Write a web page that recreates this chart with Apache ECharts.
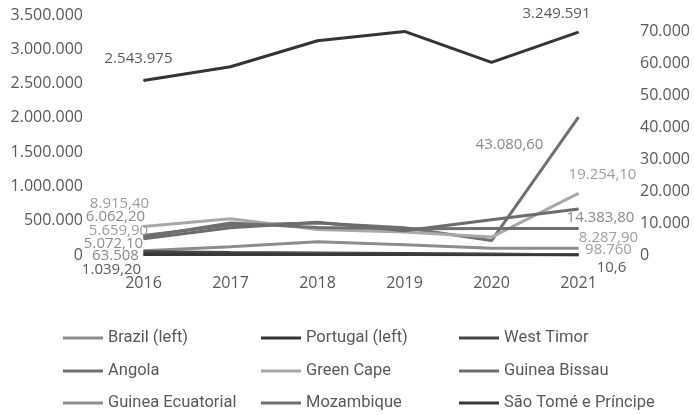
<!DOCTYPE html>
<html>
<head>
<meta charset="utf-8">
<script src="https://cdn.jsdelivr.net/npm/echarts@6/dist/echarts.min.js"></script>
<style>
  html, body { margin: 0; padding: 0; background: #fff; }
  #chart { width: 694px; height: 415px; }
</style>
</head>
<body>
<div id="chart"></div>
<script>
// Years on the category axis
const years = ['2016', '2017', '2018', '2019', '2020', '2021'];

// Left axis series (large values)
const brazil   = [63508, 121000, 195000, 150000, 100000, 98760];
const portugal = [2543975, 2745000, 3125000, 3260000, 2810000, 3249591];

// Right axis series
const westTimor        = [1039.2, 800, 650, 500, 300, 10.6];
const angola           = [6062.2, 9400, 10000, 8500, 4500, 43080.6];
const greenCape        = [8915.4, 11300, 8000, 7200, 5600, 19254.1];
const guineaBissau     = [5072.1, 8500, 10200, 7600, 11000, 14383.8];
const guineaEcuatorial = [150, 180, 200, 170, 160, 190];
const mozambique       = [5659.9, 10000, 8600, 8200, 8300, 8287.9];
const saoTome          = [120, 130, 140, 120, 110, 100];

// Axis ranges and tick steps
const leftTicks  = { max: 3500000, step: 500000 };
const rightTicks = { max: 75000, step: 10000 };

const AXIS_FONT = 'Open Sans';
const LEGEND_FONT = "'Liberation Sans Narrow', 'Arial Narrow', 'Roboto', sans-serif";

// Portuguese-style number: dot for thousands, comma for decimals
function fmtNum(v, dec) {
  const s = Number(v).toFixed(dec);
  const parts = s.split('.');
  const intPart = parts[0].replace(/\B(?=(\d{3})+(?!\d))/g, '.');
  return parts.length > 1 ? intPart + ',' + parts[1] : intPart;
}

// Build series data with value labels on the first and last year only
function withEndLabels(values, first, last) {
  return values.map((v, i) => {
    const cfg = i === 0 ? first : (i === values.length - 1 ? last : null);
    if (!cfg) return v;
    return {
      value: v,
      label: {
        show: true,
        position: 'inside',
        offset: cfg.offset,
        color: cfg.color,
        fontFamily: AXIS_FONT,
        fontSize: 15,
        formatter: () => fmtNum(v, cfg.dec)
      }
    };
  });
}

function lineSeries(name, axis, color, data) {
  return {
    name: name,
    type: 'line',
    yAxisIndex: axis,
    data: data,
    symbol: 'circle',
    symbolSize: 1,
    showSymbol: true,
    itemStyle: { color: color },
    lineStyle: { color: color, width: 3 },
    emphasis: { disabled: true },
    animation: false,
    z: 2
  };
}

const cDark = '#5a5a5a';
const cMid = '#8a8a8a';
const cLight = '#9e9e9e';

const series = [
  lineSeries('Brazil (left)', 0, '#8c8c8c',
    withEndLabels(brazil,
      { dec: 0, offset: [-28, 5], color: cMid },
      { dec: 0, offset: [30, 2], color: cLight })),
  lineSeries('Portugal (left)', 0, '#343434',
    withEndLabels(portugal,
      { dec: 0, offset: [-5, -22], color: cDark },
      { dec: 0, offset: [-22, -18], color: cDark })),
  lineSeries('West Timor', 1, '#444444',
    withEndLabels(westTimor,
      { dec: 2, offset: [-32, 18], color: cDark },
      { dec: 1, offset: [33, 13], color: cDark })),
  lineSeries('Angola', 1, '#707070',
    withEndLabels(angola,
      { dec: 2, offset: [-28, -19], color: cMid },
      { dec: 2, offset: [-69, 28], color: cMid })),
  lineSeries('Green Cape', 1, '#a8a8a8',
    withEndLabels(greenCape,
      { dec: 2, offset: [-24, -23], color: cLight },
      { dec: 2, offset: [24, -19], color: cLight })),
  lineSeries('Guinea Bissau', 1, '#6c6c6c',
    withEndLabels(guineaBissau,
      { dec: 2, offset: [-30, 5], color: cMid },
      { dec: 2, offset: [22, 9], color: cMid })),
  lineSeries('Guinea Ecuatorial', 1, '#8e8e8e', guineaEcuatorial),
  lineSeries('Mozambique', 1, '#6e6e6e',
    withEndLabels(mozambique,
      { dec: 2, offset: [-25, -6], color: cLight },
      { dec: 2, offset: [30, 9], color: cLight })),
  lineSeries('São Tomé e Príncipe', 1, '#383838', saoTome)
];

function legendRow(names, top) {
  return {
    data: names,
    top: top,
    left: 58,
    orient: 'horizontal',
    icon: 'rect',
    itemWidth: 40,
    itemHeight: 3,
    itemGap: 13,
    selectedMode: false,
    textStyle: {
      fontFamily: LEGEND_FONT,
      fontSize: 16.5,
      color: '#595959',
      width: 140,
      lineHeight: 20
    }
  };
}

const names = series.map(s => s.name);

const option = {
  backgroundColor: '#ffffff',
  animation: false,
  grid: { left: 100, right: 72, top: 15, bottom: 160, containLabel: false },
  legend: [
    legendRow(names.slice(0, 3), 323),
    legendRow(names.slice(3, 6), 356),
    legendRow(names.slice(6, 9), 388)
  ],
  xAxis: {
    type: 'category',
    data: years,
    boundaryGap: true,
    axisLine: { show: false },
    axisTick: { show: false },
    axisLabel: { color: '#595959', fontFamily: AXIS_FONT, fontSize: 16, margin: 20 }
  },
  yAxis: [
    {
      type: 'value',
      min: 0,
      max: leftTicks.max,
      interval: leftTicks.step,
      splitLine: { show: false },
      axisLine: { show: false },
      axisTick: { show: false },
      axisLabel: {
        color: '#595959', fontFamily: AXIS_FONT, fontSize: 16, margin: 17,
        formatter: v => fmtNum(v, 0)
      }
    },
    {
      type: 'value',
      min: 0,
      max: rightTicks.max,
      interval: rightTicks.step,
      splitLine: { show: false },
      axisLine: { show: false },
      axisTick: { show: false },
      axisLabel: {
        color: '#595959', fontFamily: AXIS_FONT, fontSize: 16, margin: 18,
        showMaxLabel: false,
        formatter: v => fmtNum(v, 0)
      }
    }
  ],
  series: series
};

const chart = echarts.init(document.getElementById('chart'), null, { renderer: 'canvas' });
chart.setOption(option);
</script>
</body>
</html>
